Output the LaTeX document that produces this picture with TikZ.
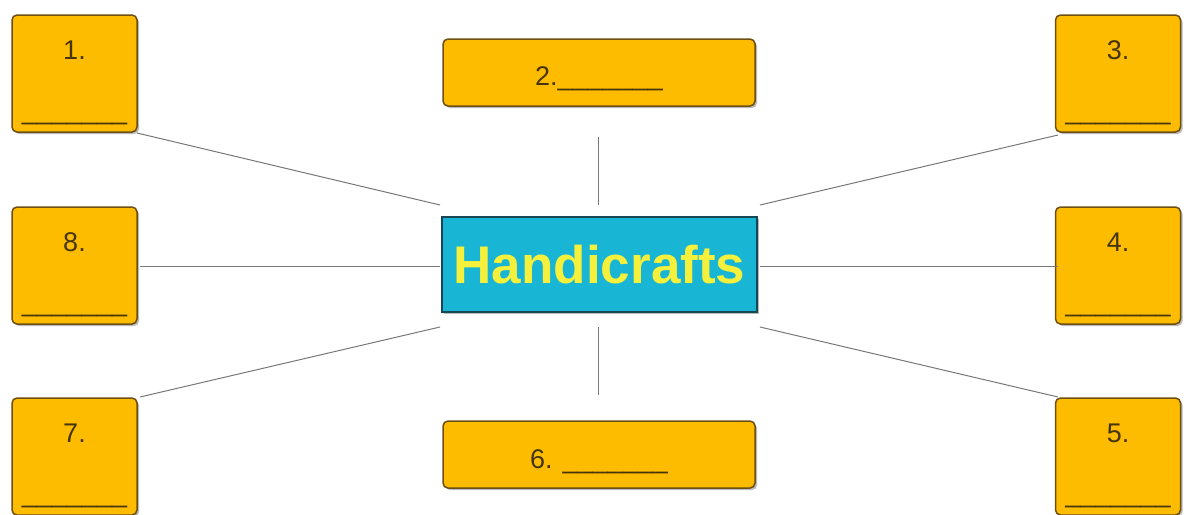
\documentclass[tikz,border=0pt]{standalone}
\usepackage{fontspec}
\setmainfont{Liberation Sans}
\usetikzlibrary{shadows}
\definecolor{boxfill}{RGB}{253,188,0}
\definecolor{boxline}{RGB}{110,80,18}
\definecolor{numtext}{RGB}{70,52,10}
\definecolor{ctrfill}{RGB}{24,182,212}
\definecolor{ctrline}{RGB}{25,70,85}
\definecolor{ctrtext}{RGB}{244,240,60}
\definecolor{conn}{RGB}{120,120,120}
\tikzset{
  ybox/.style={draw=boxline, line width=1.5pt, fill=boxfill, rounded corners=5pt,
    drop shadow={shadow xshift=2pt, shadow yshift=-2pt, fill=black!45, opacity=0.6},
    inner sep=0pt},
  sqbox/.style={ybox, minimum width=125pt, minimum height=117pt},
  widebox/.style={ybox, minimum width=312pt, minimum height=67pt},
  num/.style={text=numtext, font=\fontsize{27}{30}\selectfont, inner sep=0pt},
  ctr/.style={draw=ctrline, line width=1.5pt, fill=ctrfill,
    drop shadow={shadow xshift=2pt, shadow yshift=-2pt, fill=black!45, opacity=0.6},
    minimum width=315pt, minimum height=95pt, inner sep=0pt,
    text=ctrtext, font=\fontsize{53}{56}\selectfont\bfseries},
  link/.style={draw=conn, line width=1pt}
}
\begin{document}
\begin{tikzpicture}[x=1pt,y=-1pt]
\useasboundingbox (0,0) rectangle (1185,514);
\fill[white] (0,0) rectangle (1185,514);
% square boxes
\node[sqbox] (b1) at (74.5,73.5) {};
\node[sqbox] (b3) at (1118,73.5) {};
\node[sqbox] (b8) at (74.5,265.5) {};
\node[sqbox] (b4) at (1118,265.5) {};
\node[sqbox] (b7) at (74.5,456.5) {};
\node[sqbox] (b5) at (1118,456.5) {};
% wide boxes
\node[widebox] (b2) at (599,72.5) {};
\node[widebox] (b6) at (599,454.5) {};
% centre
\node[ctr] (c) at (599.5,264.5) {Handicrafts};
% numbers
\node[num, anchor=base] (t1) at ([yshift=-45pt]b1.north) {1.};
\node[num, anchor=base] (t3) at ([yshift=-45pt]b3.north) {3.};
\node[num, anchor=base] (t8) at ([yshift=-45pt]b8.north) {8.};
\node[num, anchor=base] (t4) at ([yshift=-45pt]b4.north) {4.};
\node[num, anchor=base] (t7) at ([yshift=-45pt]b7.north) {7.};
\node[num, anchor=base] (t5) at ([yshift=-45pt]b5.north) {5.};
\node[num, anchor=base] (u1) at ([yshift=13pt]b1.south) {\_\_\_\_\_\_\_};
\node[num, anchor=base] (u3) at ([yshift=13pt]b3.south) {\_\_\_\_\_\_\_};
\node[num, anchor=base] (u8) at ([yshift=13pt]b8.south) {\_\_\_\_\_\_\_};
\node[num, anchor=base] (u4) at ([yshift=13pt]b4.south) {\_\_\_\_\_\_\_};
\node[num, anchor=base] (u7) at ([yshift=13pt]b7.south) {\_\_\_\_\_\_\_};
\node[num, anchor=base] (u5) at ([yshift=13pt]b5.south) {\_\_\_\_\_\_\_};
\node[num, anchor=base] (t2) at ([yshift=-13pt]b2.center) {2.\_\_\_\_\_\_\_};
\node[num, anchor=base] (t6) at ([yshift=-14pt]b6.center) {6. \_\_\_\_\_\_\_};
% connector end points
\coordinate (e1a) at (137,133); \coordinate (e1b) at (440,205);
\coordinate (e2a) at (598,137); \coordinate (e2b) at (598,205);
\coordinate (e3a) at (1058,135); \coordinate (e3b) at (760,205);
\coordinate (e8a) at (140,266); \coordinate (e8b) at (440,266);
\coordinate (e4a) at (1058,266); \coordinate (e4b) at (760,266);
\coordinate (e7a) at (140,397); \coordinate (e7b) at (440,327);
\coordinate (e6a) at (598,395); \coordinate (e6b) at (598,327);
\coordinate (e5a) at (1058,397); \coordinate (e5b) at (760,327);
\draw[link] (e1a) -- (e1b);
\draw[link] (e2a) -- (e2b);
\draw[link] (e3a) -- (e3b);
\draw[link] (e8a) -- (e8b);
\draw[link] (e4a) -- (e4b);
\draw[link] (e7a) -- (e7b);
\draw[link] (e6a) -- (e6b);
\draw[link] (e5a) -- (e5b);
\end{tikzpicture}
\end{document}
